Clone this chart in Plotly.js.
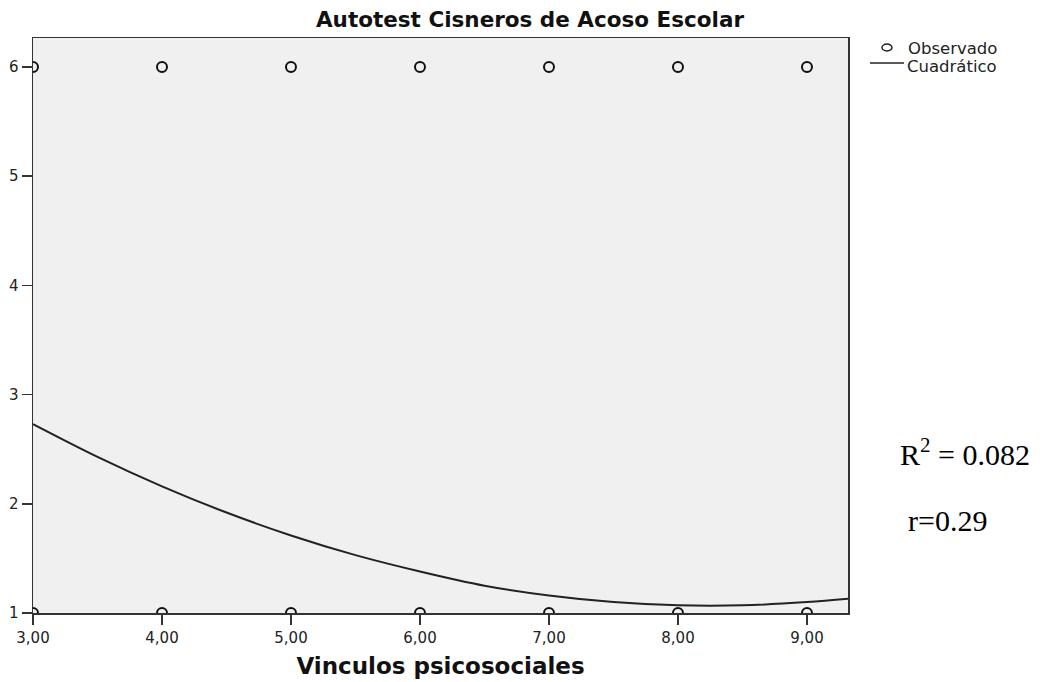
<!DOCTYPE html>
<html>
<head>
<meta charset="utf-8">
<script src="https://cdn.plot.ly/plotly-3.0.1.min.js"></script>
<style>html,body{margin:0;padding:0;background:#fff;}#chart{width:1043px;height:682px;}</style>
</head>
<body>
<div id="chart"></div>
<script>
// Observed points (Vinculos psicosociales vs Autotest score)
const obsX = [3, 4, 5, 6, 7, 8, 9, 3, 4, 5, 6, 7, 8, 9];
const obsY = [6, 6, 6, 6, 6, 6, 6, 1, 1, 1, 1, 1, 1, 1];

// Quadratic fit curve
const fitX = [3, 3.5, 4, 4.5, 5, 5.5, 6, 6.5, 7, 7.5, 8, 8.5, 9, 9.32];
const fitY = [2.73, 2.43, 2.16, 1.92, 1.71, 1.53, 1.38, 1.25, 1.16, 1.10, 1.07, 1.07, 1.10, 1.13];

const xTickVals = [3, 4, 5, 6, 7, 8, 9];
const xTickText = ["3,00", "4,00", "5,00", "6,00", "7,00", "8,00", "9,00"];
const yTickVals = [1, 2, 3, 4, 5, 6];

const titleText = "Autotest Cisneros de Acoso Escolar";
const xTitle = "Vinculos psicosociales";
const legendNames = ["Observado", "Cuadrático"];
const statsR2 = "R<sup>2</sup> = 0.082";
const statsR = "r=0.29";

// plot area geometry in pixels
const L = 33, R = 848, T = 38, B = 613;
const px = v => (v - L) / (R - L);
const py = v => (B - v) / (B - T);

const sans = "DejaVu Sans, Verdana, sans-serif";
const serif = "Liberation Serif, Times New Roman, serif";

const traces = [
  {
    x: obsX, y: obsY, type: "scatter", mode: "markers", name: legendNames[0],
    marker: {symbol: "circle-open", size: 10, color: "#111", line: {width: 2, color: "#111"}}
  },
  {
    x: fitX, y: fitY, type: "scatter", mode: "lines", name: legendNames[1],
    line: {color: "#222", width: 2, shape: "spline"}
  }
];

const axisFont = {family: sans, size: 15, color: "#222"};

const layout = {
  width: 1043, height: 682,
  margin: {l: L, r: 1043 - R, t: T, b: 682 - B, pad: 0},
  paper_bgcolor: "#ffffff",
  plot_bgcolor: "#f0f0f0",
  font: {family: sans, color: "#111"},
  showlegend: false,
  title: {
    text: "<b>" + titleText + "</b>",
    font: {family: sans, size: 21.5, color: "#111"},
    x: 530 / 1043, xanchor: "center", xref: "container",
    y: 1 - 19 / 682, yanchor: "middle", yref: "container"
  },
  xaxis: {
    range: [3, 9.318], tickmode: "array", tickvals: xTickVals, ticktext: xTickText,
    showgrid: false, zeroline: false,
    showline: true, linecolor: "#333", linewidth: 1.5, mirror: true,
    ticks: "outside", ticklen: 10, tickwidth: 1.5, tickcolor: "#333",
    tickfont: axisFont,
    title: {text: "<b>" + xTitle + "</b>", font: {family: sans, size: 23, color: "#111"}, standoff: 12}
  },
  yaxis: {
    range: [1, 6.266], tickmode: "array", tickvals: yTickVals,
    showgrid: false, zeroline: false,
    showline: true, linecolor: "#333", linewidth: 1.5, mirror: true,
    ticks: "outside", ticklen: 10, tickwidth: 1.5, tickcolor: "#333",
    tickfont: axisFont
  },
  shapes: [
    // legend symbols
    {type: "circle", xref: "paper", yref: "paper",
     x0: px(882), x1: px(892), y0: py(51), y1: py(44),
     line: {color: "#222", width: 1.5}, fillcolor: "rgba(0,0,0,0)"},
    {type: "line", xref: "paper", yref: "paper",
     x0: px(870), x1: px(904), y0: py(63), y1: py(63),
     line: {color: "#222", width: 1.5}}
  ],
  annotations: [
    {text: legendNames[0], xref: "paper", yref: "paper", x: px(906), y: py(49),
     xanchor: "left", yanchor: "middle", showarrow: false,
     font: {family: sans, size: 16.5, color: "#222"}},
    {text: legendNames[1], xref: "paper", yref: "paper", x: px(905), y: py(67),
     xanchor: "left", yanchor: "middle", showarrow: false,
     font: {family: sans, size: 16.5, color: "#222"}},
    {text: statsR2, xref: "paper", yref: "paper", x: px(898), y: py(452),
     xanchor: "left", yanchor: "middle", showarrow: false,
     font: {family: serif, size: 30, color: "#000"}},
    {text: statsR, xref: "paper", yref: "paper", x: px(906), y: py(520),
     xanchor: "left", yanchor: "middle", showarrow: false,
     font: {family: serif, size: 30, color: "#000"}}
  ]
};

Plotly.newPlot("chart", traces, layout, {displayModeBar: false, staticPlot: true});
</script>
</body>
</html>
